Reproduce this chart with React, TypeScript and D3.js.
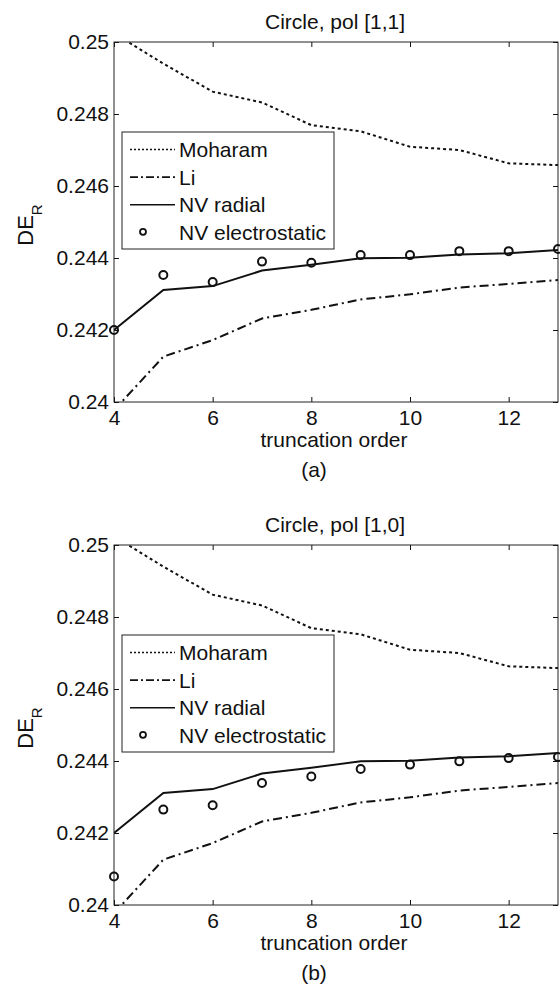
import React, { useEffect, useRef } from "react";
import * as d3 from "d3";

// truncation orders on the x axis
const orders = [4, 5, 6, 7, 8, 9, 10, 11, 12, 13];

// series (same lines in both panels)
const moharam = [0.25024, 0.2494, 0.24862, 0.24832, 0.24769, 0.24752, 0.24709, 0.247, 0.24663, 0.24658];
const li = [0.23977, 0.24126, 0.24172, 0.24232, 0.24256, 0.24285, 0.24299, 0.24318, 0.24328, 0.24339];
const nvRadial = [0.242, 0.24311, 0.24322, 0.24365, 0.24381, 0.24399, 0.24401, 0.2441, 0.24413, 0.24422];

// NV electrostatic markers, pol [1,1] and pol [1,0]
const nvElectroA = [0.242, 0.24353, 0.24333, 0.2439, 0.24387, 0.24408, 0.24408, 0.24419, 0.24419, 0.24425];
const nvElectroB = [0.24079, 0.24265, 0.24277, 0.24339, 0.24357, 0.24378, 0.2439, 0.24399, 0.24408, 0.24411];

const xTicks = [4, 6, 8, 10, 12];
const yTicks = [0.24, 0.242, 0.244, 0.246, 0.248, 0.25];
const legendLabels = ["Moharam", "Li", "NV radial", "NV electrostatic"];

const FONT = "'Liberation Sans', Arial, Helvetica, sans-serif";
const plotW = 444;
const plotH = 360;
const dashes = ["3,3", "9,4,2,4", null];

function Panel({ id, top, title, caption, electro }) {
  const ref = useRef(null);

  useEffect(() => {
    const g = d3.select(ref.current);
    g.selectAll("*").remove();

    const x = d3.scaleLinear().domain([4, 13]).range([0, plotW]);
    const y = d3.scaleLinear().domain([0.24, 0.25]).range([plotH, 0]);
    const fmt = (d) => String(+(+d).toFixed(3));

    g.append("clipPath")
      .attr("id", `clip-${id}`)
      .append("rect")
      .attr("width", plotW)
      .attr("height", plotH);

    g.append("rect")
      .attr("width", plotW)
      .attr("height", plotH)
      .attr("fill", "white");

    // axes: ticks point inwards, labels only left/bottom
    const axes = [
      [d3.axisBottom(x).tickValues(xTicks).tickFormat(d3.format("d")), `translate(0,${plotH})`],
      [d3.axisTop(x).tickValues(xTicks).tickFormat(() => ""), "translate(0,0)"],
      [d3.axisLeft(y).tickValues(yTicks).tickFormat(fmt), "translate(0,0)"],
      [d3.axisRight(y).tickValues(yTicks).tickFormat(() => ""), `translate(${plotW},0)`],
    ];
    axes.forEach(([axis, tr], i) => {
      axis.tickSizeInner(-5).tickSizeOuter(0).tickPadding(i === 0 ? 8 : 5);
      g.append("g")
        .attr("transform", tr)
        .call(axis)
        .call((n) => n.select(".domain").remove())
        .attr("font-family", FONT)
        .attr("font-size", 21);
    });
    g.selectAll(".tick line").attr("stroke", "#111");
    g.selectAll(".tick text").attr("fill", "#111");

    const line = d3
      .line()
      .x((d, i) => x(orders[i]))
      .y((d) => y(d));

    const lines = g.append("g").attr("clip-path", `url(#clip-${id})`);
    [moharam, li, nvRadial].forEach((s, i) => {
      lines
        .append("path")
        .attr("d", line(s))
        .attr("fill", "none")
        .attr("stroke", "#111")
        .attr("stroke-width", 2)
        .attr("stroke-dasharray", dashes[i]);
    });

    g.append("rect")
      .attr("width", plotW)
      .attr("height", plotH)
      .attr("fill", "none")
      .attr("stroke", "#222")
      .attr("stroke-width", 1);

    g.append("g")
      .selectAll("circle")
      .data(electro)
      .join("circle")
      .attr("cx", (d, i) => x(orders[i]))
      .attr("cy", (d) => y(d))
      .attr("r", 4)
      .attr("fill", "none")
      .attr("stroke", "#111")
      .attr("stroke-width", 2);

    // legend
    const lg = g.append("g").attr("transform", "translate(8,90)");
    lg.append("rect")
      .attr("width", 212)
      .attr("height", 117)
      .attr("fill", "white")
      .attr("stroke", "#222")
      .attr("stroke-width", 1);
    legendLabels.forEach((label, i) => {
      const by = 25 + i * 27.6;
      if (i < 3) {
        lg.append("line")
          .attr("x1", 8)
          .attr("x2", 53)
          .attr("y1", by - 7.5)
          .attr("y2", by - 7.5)
          .attr("stroke", "#111")
          .attr("stroke-width", 1.6)
          .attr("stroke-dasharray", i === 0 ? "2,2" : i === 1 ? "8,3,2,3" : null);
      } else {
        lg.append("circle")
          .attr("cx", 21)
          .attr("cy", by - 8)
          .attr("r", 3)
          .attr("fill", "none")
          .attr("stroke", "#111")
          .attr("stroke-width", 1.8);
      }
      lg.append("text")
        .attr("x", 57)
        .attr("y", by)
        .attr("font-family", FONT)
        .attr("font-size", 21)
        .attr("fill", "#111")
        .text(label);
    });

    const txt = (tx, ty, s) =>
      g.append("text")
        .attr("x", tx)
        .attr("y", ty)
        .attr("text-anchor", "middle")
        .attr("font-family", FONT)
        .attr("font-size", 21)
        .attr("fill", "#111")
        .text(s);

    txt(221, -13, title);
    txt(220, plotH + 45, "truncation order");
    txt(200, plotH + 75, caption);

    const yl = g.append("text")
      .attr("transform", `translate(-81,183) rotate(-90)`)
      .attr("text-anchor", "middle")
      .attr("font-family", FONT)
      .attr("font-size", 22)
      .attr("fill", "#111");
    yl.append("tspan").text("DE");
    yl.append("tspan").attr("font-size", 15).attr("dy", 9).text("R");
  }, [id, top, title, caption, electro]);

  return <g ref={ref} transform={`translate(114,${top})`} />;
}

export default function App() {
  return (
    <svg
      width={560}
      height={984}
      style={{ position: "absolute", left: 0, top: 0, background: "white" }}
    >
      <Panel id="a" top={42} title="Circle, pol [1,1]" caption="(a)" electro={nvElectroA} />
      <Panel id="b" top={545} title="Circle, pol [1,0]" caption="(b)" electro={nvElectroB} />
    </svg>
  );
}
